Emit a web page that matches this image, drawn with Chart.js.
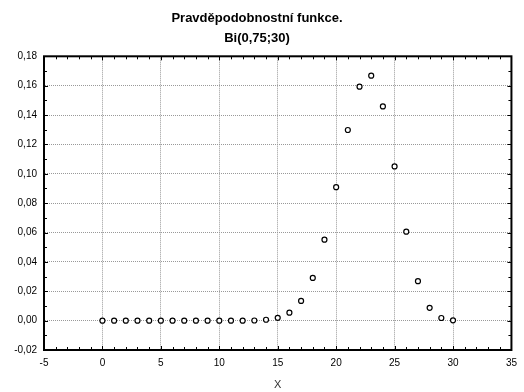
<!DOCTYPE html>
<html lang="cs">
<head>
<meta charset="UTF-8">
<title>Pravděpodobnostní funkce</title>
<style>
  html, body { margin: 0; padding: 0; background: #fff; }
  #wrap { width: 524px; height: 392px; }
</style>
</head>
<body>
<div id="wrap"><canvas id="chart" width="524" height="392"></canvas></div>
<script src="https://cdn.jsdelivr.net/npm/chart.js"></script>
<script>
// values
const xs = [0, 1, 2, 3, 4, 5, 6, 7, 8, 9, 10, 11, 12, 13, 14, 15,
            16, 17, 18, 19, 20, 21, 22, 23, 24, 25, 26, 27, 28, 29, 30];
const probs = [0, 0, 0, 0, 0, 0, 0, 0, 0, 0, 0, 0, 0, 0.0001, 0.0006, 0.0019,
               0.0054, 0.0134, 0.0291, 0.0551, 0.0909, 0.1298, 0.1593, 0.1668, 0.1459, 0.1050,
               0.0606, 0.0269, 0.0087, 0.0018, 0.0002];
const titleLines = ['Pravděpodobnostní funkce.', 'Bi(0,75;30)'];
const xTitle = 'X';
const xRange = [-5, 35];
const yRange = [-0.02, 0.18];

const points = xs.map((x, i) => ({ x: x, y: probs[i] }));
const font = "Arial, 'Liberation Sans', sans-serif";

// frame with inward ticks on all four sides
const framePlugin = {
  id: 'frame',
  afterDraw(chart) {
    const { ctx, chartArea: a, scales } = chart;
    const xs_ = scales.x, ys_ = scales.y;
    ctx.save();
    ctx.strokeStyle = '#000';
    ctx.lineWidth = 1;
    ctx.beginPath();
    for (let v = xRange[0]; v <= xRange[1]; v++) {
      const px = Math.round(xs_.getPixelForValue(v)) + 0.5;
      const len = v % 5 === 0 ? 4 : 3;
      ctx.moveTo(px, a.bottom); ctx.lineTo(px, a.bottom - len);
      ctx.moveTo(px, a.top); ctx.lineTo(px, a.top + len);
    }
    for (let k = 0; k <= 20; k++) {
      const v = yRange[0] + k * 0.01;
      const py = Math.round(ys_.getPixelForValue(v)) + 0.5;
      const len = k % 2 === 0 ? 4 : 3;
      ctx.moveTo(a.left, py); ctx.lineTo(a.left + len, py);
      ctx.moveTo(a.right, py); ctx.lineTo(a.right - len, py);
    }
    ctx.stroke();
    ctx.lineWidth = 2;
    ctx.strokeRect(a.left, a.top, a.right - a.left, a.bottom - a.top);
    ctx.restore();
  }
};

function fmtY(v) {
  if (Math.abs(v) < 1e-9) v = 0;
  return v.toFixed(2).replace('.', ',');
}

new Chart(document.getElementById('chart'), {
  type: 'scatter',
  data: {
    datasets: [{
      data: points,
      pointStyle: 'circle',
      pointRadius: 2.5,
      pointBorderWidth: 1.2,
      pointBorderColor: '#000',
      pointBackgroundColor: '#fff',
      showLine: false
    }]
  },
  options: {
    responsive: false,
    animation: false,
    layout: { padding: { left: 0, right: 10, top: 0, bottom: 0 } },
    plugins: {
      legend: { display: false },
      tooltip: { enabled: false },
      title: {
        display: true,
        text: titleLines,
        color: '#000',
        font: { family: font, size: 13, weight: 'bold', lineHeight: 1.55 },
        padding: { top: 8, bottom: 8 }
      }
    },
    scales: {
      x: {
        type: 'linear',
        min: xRange[0], max: xRange[1],
        afterFit(s) { s.height = 42; },
        ticks: {
          stepSize: 5,
          color: '#000',
          padding: 7,
          font: { family: font, size: 10 },
          callback: v => String(v)
        },
        grid: {
          drawTicks: false,
          color: '#999',
          lineWidth: 1,
          borderDash: [1, 1]
        },
        border: { display: true, color: '#000', dash: [1, 1] },
        title: {
          display: true,
          text: xTitle,
          color: '#333',
          font: { family: font, size: 11 },
          padding: { top: 4, bottom: 0 }
        }
      },
      y: {
        type: 'linear',
        min: yRange[0], max: yRange[1],
        afterFit(s) { s.width = 44; },
        ticks: {
          stepSize: 0.02,
          color: '#000',
          padding: 7,
          font: { family: font, size: 10 },
          callback: fmtY
        },
        grid: {
          drawTicks: false,
          color: '#999',
          lineWidth: 1,
          borderDash: [1, 1]
        },
        border: { display: true, color: '#000', dash: [1, 1] }
      }
    }
  },
  plugins: [framePlugin]
});
</script>
</body>
</html>
